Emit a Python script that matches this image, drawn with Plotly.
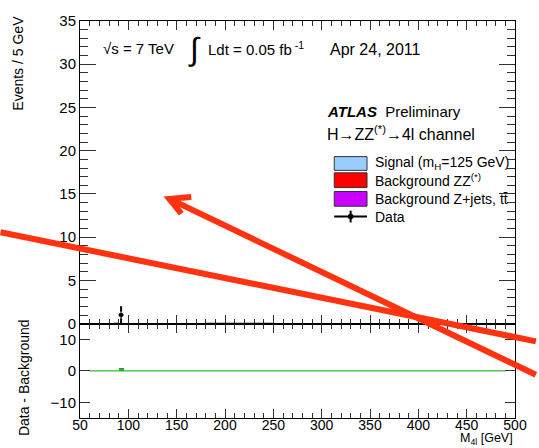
import plotly.graph_objects as go

# ---- data ----
bin_width = 5.0
data_mass = [87.5, 92.5, 182.5, 187.5, 192.5, 197.5, 202.5, 207.5, 212.5, 217.5,
             222.5, 227.5, 232.5, 237.5, 242.5, 247.5]
data_events = [0, 1, 0, 0, 0, 0, 0, 0, 0, 0, 0, 0, 0, 0, 0, 0]
diff_mass = [92.5]
diff_values = [0.9]
diff_zero_x = [60, 490]
diff_zero_y = [0, 0]

legend_labels = ["Signal (m<sub>H</sub>=125 GeV)", "Background ZZ<sup>(*)</sup>",
                 "Background Z+jets, tt\u0304", "Data"]
legend_colors = ["#99ccff", "#ff0000", "#cc00ff", None]

x_ticks = [50, 100, 150, 200, 250, 300, 350, 400, 450, 500]
y_ticks_top = [0, 5, 10, 15, 20, 25, 30, 35]
y_ticks_bottom = [-10, 0, 10]

FONT = "Liberation Sans, Arial, sans-serif"
W, H = 539, 448
ML, MR, MT, MB = 80, 21, 14, 30
PW, PH = W - ML - MR, H - MT - MB


def px(x):
    return (x - ML) / PW


def py(y):
    return (H - MB - y) / PH


split = py(322)

fig = go.Figure()

# data points (zero bins show only their horizontal bin width)
fig.add_trace(go.Scatter(
    x=data_mass, y=data_events, mode="markers",
    marker=dict(color="black", size=[6 if v > 0 else 0 for v in data_events]),
    error_y=dict(type="data", array=[v ** 0.5 for v in data_events],
                 color="black", thickness=2, width=0),
    error_x=dict(type="constant", value=bin_width / 2, color="black",
                 thickness=2, width=0),
    xaxis="x", yaxis="y", showlegend=False, cliponaxis=False))

# data minus background
fig.add_trace(go.Scatter(x=diff_zero_x, y=diff_zero_y, mode="lines",
                         line=dict(color="#33bb33", width=1.2),
                         xaxis="x2", yaxis="y2", showlegend=False))
fig.add_trace(go.Bar(x=diff_mass, y=diff_values, width=bin_width,
                     marker=dict(color="#22aa22", line=dict(width=0)),
                     xaxis="x2", yaxis="y2", showlegend=False))

axis_common = dict(showline=True, linecolor="black", linewidth=1,
                   showgrid=False, zeroline=False, mirror="allticks",
                   ticks="inside", tickcolor="#333", tickwidth=1,
                   tickfont=dict(family=FONT, size=15, color="black"))

fig.update_layout(
    width=W, height=H,
    margin=dict(l=ML, r=MR, t=MT, b=MB),
    paper_bgcolor="white", plot_bgcolor="white",
    font=dict(family=FONT, color="black"),
    bargap=0,
    xaxis=dict(domain=[0, 1], anchor="y", range=[50, 500], tickvals=x_ticks,
               showticklabels=False, ticklen=9,
               minor=dict(ticks="inside", dtick=10, ticklen=5, tickcolor="#333"),
               **axis_common),
    yaxis=dict(domain=[split, 1], anchor="x", range=[0, 35], tickvals=y_ticks_top,
               ticklen=16,
               minor=dict(ticks="inside", dtick=1, ticklen=8, tickcolor="#333"),
               **axis_common),
    xaxis2=dict(domain=[0, 1], anchor="y2", range=[50, 500], tickvals=x_ticks,
                ticklen=9, ticklabelstandoff=-6,
                minor=dict(ticks="inside", dtick=10, ticklen=5, tickcolor="#333"),
                **{**axis_common,
                   "tickfont": dict(family=FONT, size=14, color="black")}),
    yaxis2=dict(domain=[0, split], anchor="x2", range=[-15, 15],
                tickvals=y_ticks_bottom, ticklen=10, **axis_common),
)

ann = []


def text(x, y, s, size=13, xanchor="left", **kw):
    ann.append(dict(x=px(x), y=py(y), xref="paper", yref="paper", text=s,
                    showarrow=False, xanchor=xanchor, yanchor="middle",
                    font=dict(family=FONT, size=size, color="black"), **kw))


# axis titles
text(18, 57, "Events / 5 GeV", size=14, xanchor="center", textangle=-90)
text(23, 377, "Data - Background", size=14, xanchor="center", textangle=-90)
text(518, 439, "M<sub>4l</sub> [GeV]", size=12.5, xanchor="right")

# header line
text(101, 42, "\u221As = 7 TeV", size=15)
text(187, 42, "\u222B", size=32)
text(207, 42, "Ldt = 0.05 fb<sup> -1</sup>", size=15)
text(330, 43, "Apr 24, 2011", size=16)

# experiment label
text(327, 106, "<b><i>ATLAS</i></b>  Preliminary", size=15)
text(327, 128, "H\u2192ZZ<sup>(*)</sup>\u21924l channel", size=16)

# legend
rows = [159, 176, 195, 213]
shapes = []
for lab, col, yc in zip(legend_labels, legend_colors, rows):
    text(375, yc, lab, size=14)
    if col is not None:
        h = 7 if yc == rows[0] else 7.5
        shapes.append(dict(type="rect", xref="paper", yref="paper",
                           x0=px(336), x1=px(369), y0=py(yc - h), y1=py(yc + h),
                           fillcolor=col, line=dict(color="#333", width=1)))
    else:
        shapes.append(dict(type="line", xref="paper", yref="paper",
                           x0=px(336), x1=px(369), y0=py(yc), y1=py(yc),
                           line=dict(color="black", width=2)))
        shapes.append(dict(type="line", xref="paper", yref="paper",
                           x0=px(352.5), x1=px(352.5), y0=py(yc - 6), y1=py(yc + 6),
                           line=dict(color="black", width=2)))
        shapes.append(dict(type="circle", xref="paper", yref="paper",
                           x0=px(350), x1=px(355), y0=py(yc - 2.5), y1=py(yc + 2.5),
                           fillcolor="black", line=dict(color="black", width=1)))

# red overlay strokes
RED = "#ff3311"


def path(points):
    return "M " + " L ".join(f"{px(a):.5f},{py(b):.5f}" for a, b in points)


shapes.append(dict(type="path", xref="paper", yref="paper",
                   path=path([(0, 229), (539, 340)]),
                   line=dict(color=RED, width=6)))
shapes.append(dict(type="path", xref="paper", yref="paper",
                   path=path([(170, 195), (539, 374)]),
                   line=dict(color=RED, width=6)))
shapes.append(dict(type="path", xref="paper", yref="paper",
                   path=path([(192, 193), (170, 195), (182, 210)]),
                   line=dict(color=RED, width=6)))

fig.update_layout(annotations=ann, shapes=shapes)

fig.write_html("out.html")
